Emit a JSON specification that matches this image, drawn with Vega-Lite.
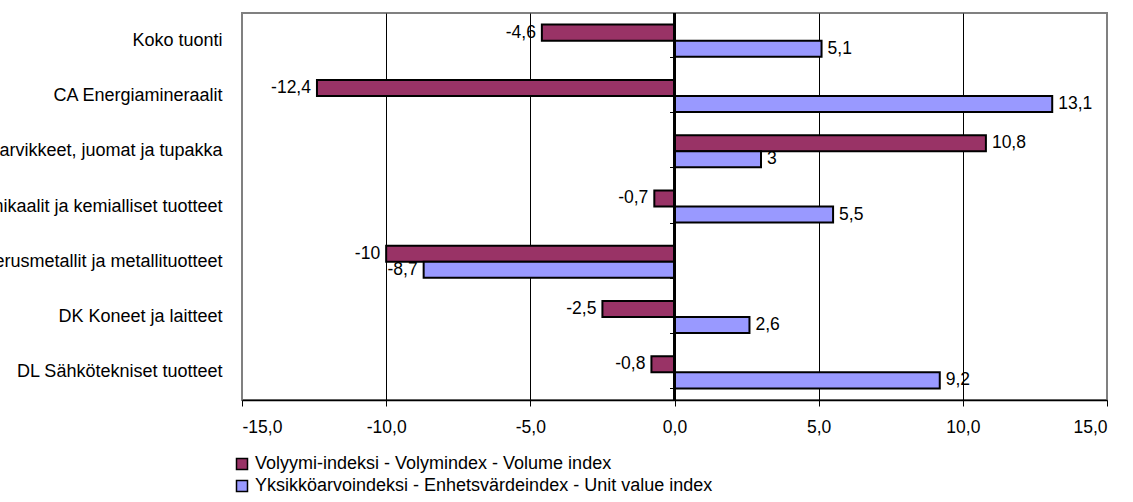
{
  "$schema": "https://vega.github.io/schema/vega-lite/v6.json",
  "autosize": "none",
  "width": 865,
  "height": 387,
  "padding": {"left": 242, "top": 13, "right": 26, "bottom": 102},
  "background": "white",
  "config": {
    "font": "Liberation Sans",
    "view": {"stroke": "#808080", "strokeWidth": 2},
    "locale": {"number": {"decimal": ",", "thousands": " ", "grouping": [3], "currency": ["", " €"], "minus": "-"}}
  },
  "data": {"values": [
    {"category": "Koko tuonti ", "series": "Volyymi-indeksi - Volymindex - Volume index", "value": -4.6},
    {"category": "Koko tuonti ", "series": "Yksikköarvoindeksi - Enhetsvärdeindex - Unit value index", "value": 5.1},
    {"category": "CA Energiamineraalit", "series": "Volyymi-indeksi - Volymindex - Volume index", "value": -12.4},
    {"category": "CA Energiamineraalit", "series": "Yksikköarvoindeksi - Enhetsvärdeindex - Unit value index", "value": 13.1},
    {"category": "DA Elintarvikkeet, juomat ja tupakka ", "series": "Volyymi-indeksi - Volymindex - Volume index", "value": 10.8},
    {"category": "DA Elintarvikkeet, juomat ja tupakka ", "series": "Yksikköarvoindeksi - Enhetsvärdeindex - Unit value index", "value": 3},
    {"category": "DG Kemikaalit ja kemialliset tuotteet", "series": "Volyymi-indeksi - Volymindex - Volume index", "value": -0.7},
    {"category": "DG Kemikaalit ja kemialliset tuotteet", "series": "Yksikköarvoindeksi - Enhetsvärdeindex - Unit value index", "value": 5.5},
    {"category": "DJ Perusmetallit ja metallituotteet ", "series": "Volyymi-indeksi - Volymindex - Volume index", "value": -10},
    {"category": "DJ Perusmetallit ja metallituotteet ", "series": "Yksikköarvoindeksi - Enhetsvärdeindex - Unit value index", "value": -8.7},
    {"category": "DK Koneet ja laitteet ", "series": "Volyymi-indeksi - Volymindex - Volume index", "value": -2.5},
    {"category": "DK Koneet ja laitteet ", "series": "Yksikköarvoindeksi - Enhetsvärdeindex - Unit value index", "value": 2.6},
    {"category": "DL Sähkötekniset tuotteet ", "series": "Volyymi-indeksi - Volymindex - Volume index", "value": -0.8},
    {"category": "DL Sähkötekniset tuotteet ", "series": "Yksikköarvoindeksi - Enhetsvärdeindex - Unit value index", "value": 9.2}
  ]},
  "encoding": {
    "y": {"field": "category", "type": "nominal", "sort": null,
          "scale": {"paddingInner": 0.42, "paddingOuter": 0.21}},
    "x": {"field": "value", "type": "quantitative",
          "scale": {"domain": [-15, 15], "nice": false, "zero": false},
          "axis": {"title": null, "values": [-15, -10, -5, 0, 5, 10, 15], "format": ".1f",
                   "domainColor": "black", "domainWidth": 1.5, "tickColor": "black", "tickSize": 6,
                   "labelFontSize": 17.5, "labelColor": "black", "labelPadding": 12,
                   "grid": true, "gridColor": "black", "gridWidth": 1,
                   "gridOpacity": {"condition": {"test": "abs(datum.value) == 15", "value": 0}, "value": 1}}},
    "yOffset": {"field": "series", "type": "nominal",
                "sort": ["Volyymi-indeksi - Volymindex - Volume index", "Yksikköarvoindeksi - Enhetsvärdeindex - Unit value index"],
                "scale": {"paddingInner": 0, "paddingOuter": 0}}
  },
  "layer": [
    {
      "mark": {"type": "bar", "stroke": "black", "strokeWidth": 2},
      "encoding": {
        "y": {"field": "category", "type": "nominal", "sort": null,
              "axis": {"title": null, "domain": false, "ticks": false, "labelFontSize": 18, "labelColor": "black",
                       "labelPadding": 20, "labelLimit": 600, "grid": false}},
        "color": {"field": "series", "type": "nominal",
                  "scale": {"domain": ["Volyymi-indeksi - Volymindex - Volume index", "Yksikköarvoindeksi - Enhetsvärdeindex - Unit value index"],
                            "range": ["#993366", "#9999FF"]},
                  "legend": {"title": null, "orient": "none", "legendX": -9, "legendY": 442, "direction": "vertical",
                             "symbolType": "square", "symbolSize": 121, "symbolStrokeColor": "black", "symbolStrokeWidth": 1.5,
                             "labelFontSize": 18, "labelColor": "black", "labelOffset": 4, "rowPadding": 4, "padding": 0,
                             "labelLimit": 800}}
      }
    },
    {
      "layer": [
        {
          "transform": [{"filter": "datum.value < 0"}],
          "mark": {"type": "text", "align": "right", "baseline": "middle", "dx": -6, "fontSize": 17.5, "color": "black"},
          "encoding": {"text": {"field": "value", "type": "quantitative", "format": "~g"}}
        },
        {
          "transform": [{"filter": "datum.value >= 0"}],
          "mark": {"type": "text", "align": "left", "baseline": "middle", "dx": 6, "fontSize": 17.5, "color": "black"},
          "encoding": {"text": {"field": "value", "type": "quantitative", "format": "~g"}}
        }
      ],
      "encoding": {
        "y": {"field": "category", "type": "nominal", "sort": null,
              "axis": {"orient": "left", "offset": -432.5, "labels": false, "domain": false, "title": null,
                       "ticks": true, "tickBand": "extent", "tickSize": 5, "tickColor": "black", "tickWidth": 1, "grid": false}}
      }
    },
    {
      "mark": {"type": "rule", "color": "black", "strokeWidth": 1.5},
      "encoding": {"x": {"datum": 0}, "y": null, "yOffset": null}
    }
  ],
  "resolve": {"axis": {"y": "independent"}}
}
